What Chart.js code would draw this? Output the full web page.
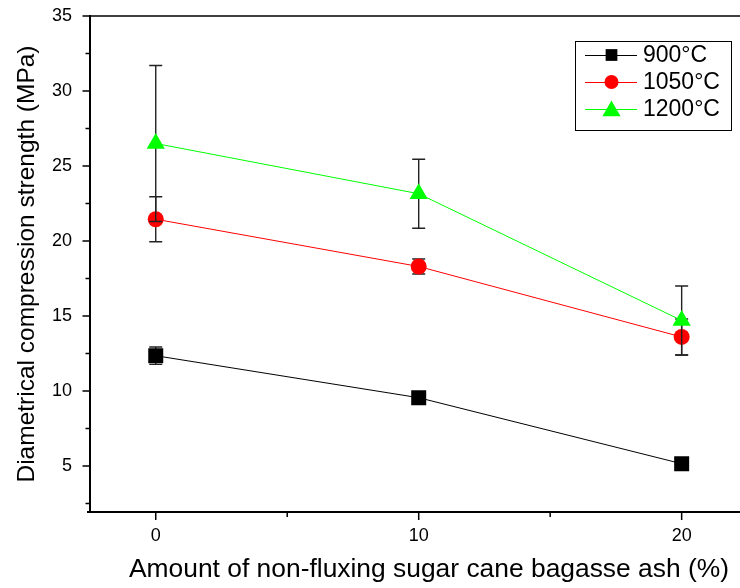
<!DOCTYPE html>
<html>
<head>
<meta charset="utf-8">
<script src="https://cdn.jsdelivr.net/npm/chart.js@4.4.1/dist/chart.umd.min.js"></script>
<style>
html,body{margin:0;padding:0;background:#fff;overflow:hidden;width:740px;height:588px;}
#wrap{position:absolute;left:0;top:0;width:758px;height:588px;}
</style>
</head>
<body>
<div id="wrap"><canvas id="c" width="758" height="588"></canvas></div>
<script>
// ---- data ----
const categories = [0, 10, 20];
const seriesNames = ['900°C', '1050°C', '1200°C'];
const s900 = [12.35, 9.55, 5.15];
const s900err = [0.58, 0.2, 0.2];
const s1050 = [21.45, 18.3, 13.6];
const s1050err = [1.5, 0.5, 1.2];
const s1200 = [26.5, 23.15, 14.7];
const s1200err = [5.2, 2.3, 2.3];
const xTicks = [0, 10, 20];
const xMinorTicks = [5, 15];
const yTicks = [5, 10, 15, 20, 25, 30, 35];
const yMinorTicks = [2.5, 7.5, 12.5, 17.5, 22.5, 27.5, 32.5];
const xTitle = 'Amount of non-fluxing sugar cane bagasse ash (%)';
const yTitle = 'Diametrical compression strength (MPa)';

const colors = ['#000000', '#ff0000', '#00ff00'];
const styles = ['rect', 'circle', 'triangle'];
const radii = [10.6, 8, 10.5];
const values = [s900, s1050, s1200];
const errors = [s900err, s1050err, s1200err];
const FONT = '"Liberation Sans", Arial, sans-serif';

const datasets = values.map((vals, i) => ({
  label: seriesNames[i],
  data: categories.map((c, j) => ({x: c, y: vals[j]})),
  borderColor: colors[i],
  backgroundColor: colors[i],
  pointBackgroundColor: colors[i],
  pointBorderColor: colors[i],
  pointBorderWidth: 0,
  pointStyle: styles[i],
  pointRadius: radii[i],
  pointHoverRadius: radii[i],
  borderWidth: 1,
  tension: 0,
  order: 3 - i,
  errs: errors[i]
}));

const errorBars = {
  id: 'errorBars',
  beforeDatasetDraw(chart, args) {
    const ds = chart.data.datasets[args.index];
    const meta = args.meta;
    const ys = chart.scales.y;
    const ctx = chart.ctx;
    ctx.save();
    ctx.strokeStyle = '#222';
    ctx.lineWidth = 1.4;
    meta.data.forEach((pt, j) => {
      const v = ds.data[j].y, e = ds.errs[j];
      const top = ys.getPixelForValue(v + e);
      const bot = ys.getPixelForValue(v - e);
      const x = pt.x;
      ctx.beginPath();
      ctx.moveTo(x, top); ctx.lineTo(x, bot);
      ctx.moveTo(x - 6.5, top); ctx.lineTo(x + 6.5, top);
      ctx.moveTo(x - 6.5, bot); ctx.lineTo(x + 6.5, bot);
      ctx.stroke();
    });
    ctx.restore();
  }
};

function drawMarker(ctx, style, x, y, r, color) {
  ctx.fillStyle = color;
  ctx.beginPath();
  if (style === 'rect') {
    const s = r * Math.SQRT1_2;
    ctx.rect(x - s, y - s, 2 * s, 2 * s);
  } else if (style === 'circle') {
    ctx.arc(x, y, r, 0, Math.PI * 2);
  } else {
    ctx.moveTo(x, y - r);
    ctx.lineTo(x + r * Math.sin(2 * Math.PI / 3), y + r / 2);
    ctx.lineTo(x - r * Math.sin(2 * Math.PI / 3), y + r / 2);
    ctx.closePath();
  }
  ctx.fill();
}

const frame = {
  id: 'frame',
  afterDraw(chart) {
    const ctx = chart.ctx;
    const a = chart.chartArea;
    const xs = chart.scales.x, ys = chart.scales.y;
    ctx.save();
    ctx.strokeStyle = '#000';
    ctx.lineWidth = 1.5;
    ctx.beginPath(); ctx.moveTo(a.left, a.top); ctx.lineTo(a.right, a.top); ctx.stroke();
    ctx.lineWidth = 1.5;
    ctx.beginPath();
    yTicks.forEach(v => { const p = ys.getPixelForValue(v); ctx.moveTo(a.left - 7.5, p); ctx.lineTo(a.left, p); });
    yMinorTicks.forEach(v => { const p = ys.getPixelForValue(v); ctx.moveTo(a.left - 4.5, p); ctx.lineTo(a.left, p); });
    xTicks.forEach(v => { const p = xs.getPixelForValue(v); ctx.moveTo(p, a.bottom); ctx.lineTo(p, a.bottom + 8); });
    xMinorTicks.forEach(v => { const p = xs.getPixelForValue(v); ctx.moveTo(p, a.bottom); ctx.lineTo(p, a.bottom + 5); });
    ctx.stroke();
    ctx.lineWidth = 2;
    ctx.beginPath(); ctx.moveTo(a.left - 3, a.bottom); ctx.lineTo(a.left, a.bottom); ctx.stroke();

    // x axis title
    ctx.fillStyle = '#000';
    ctx.font = '26.4px ' + FONT;
    ctx.textAlign = 'center';
    ctx.textBaseline = 'middle';
    ctx.fillText(xTitle, 429, 570);

    // legend
    const bx = 575, by = 41, bw = 156, bh = 89;
    ctx.lineWidth = 1;
    ctx.strokeStyle = '#000';
    ctx.strokeRect(bx + 0.5, by + 0.5, bw, bh);
    const rowsY = [55, 82, 109];
    const lr = [8.3, 7, 10.5];
    ctx.font = '23px ' + FONT;
    ctx.textBaseline = 'middle';
    ctx.textAlign = 'left';
    seriesNames.forEach((name, i) => {
      const y = rowsY[i];
      ctx.strokeStyle = colors[i];
      ctx.lineWidth = 1;
      ctx.beginPath(); ctx.moveTo(585, y + 0.5); ctx.lineTo(637, y + 0.5); ctx.stroke();
      drawMarker(ctx, styles[i], 611.5, i === 2 ? y + 2 : y, lr[i], colors[i]);
      ctx.fillStyle = '#000';
      ctx.fillText(name, 643, y + 1);
    });
    ctx.restore();
  }
};

new Chart(document.getElementById('c'), {
  type: 'line',
  data: { datasets },
  options: {
    responsive: false,
    animation: false,
    events: [],
    layout: { padding: { top: 16, right: 1, left: 0, bottom: 0 } },
    plugins: { legend: { display: false }, tooltip: { enabled: false } },
    scales: {
      x: {
        type: 'linear',
        min: -2.5, max: 22.5,
        afterBuildTicks: s => { s.ticks = xTicks.map(v => ({value: v})); },
        afterFit: s => { s.height = 76; s.paddingLeft = 0; s.paddingRight = 0; },
        grid: { display: false },
        border: { display: true, color: '#000', width: 2 },
        ticks: { color: '#000', font: { family: FONT, size: 18 }, padding: 5, maxRotation: 0, callback: v => String(v) },
        title: { display: false, text: xTitle }
      },
      y: {
        type: 'linear',
        min: 1.93, max: 35,
        afterBuildTicks: s => { s.ticks = yTicks.map(v => ({value: v})); },
        afterFit: s => { s.width = 90; s.paddingTop = 0; s.paddingBottom = 0; },
        grid: { display: false },
        border: { display: true, color: '#000', width: 2 },
        ticks: { color: '#000', font: { family: FONT, size: 18 }, padding: 10, callback: v => String(v) },
        title: { display: true, text: yTitle, color: '#000', font: { family: FONT, size: 24.5 }, padding: { top: 13, bottom: 0 } }
      }
    }
  },
  plugins: [errorBars, frame]
});
</script>
</body>
</html>
